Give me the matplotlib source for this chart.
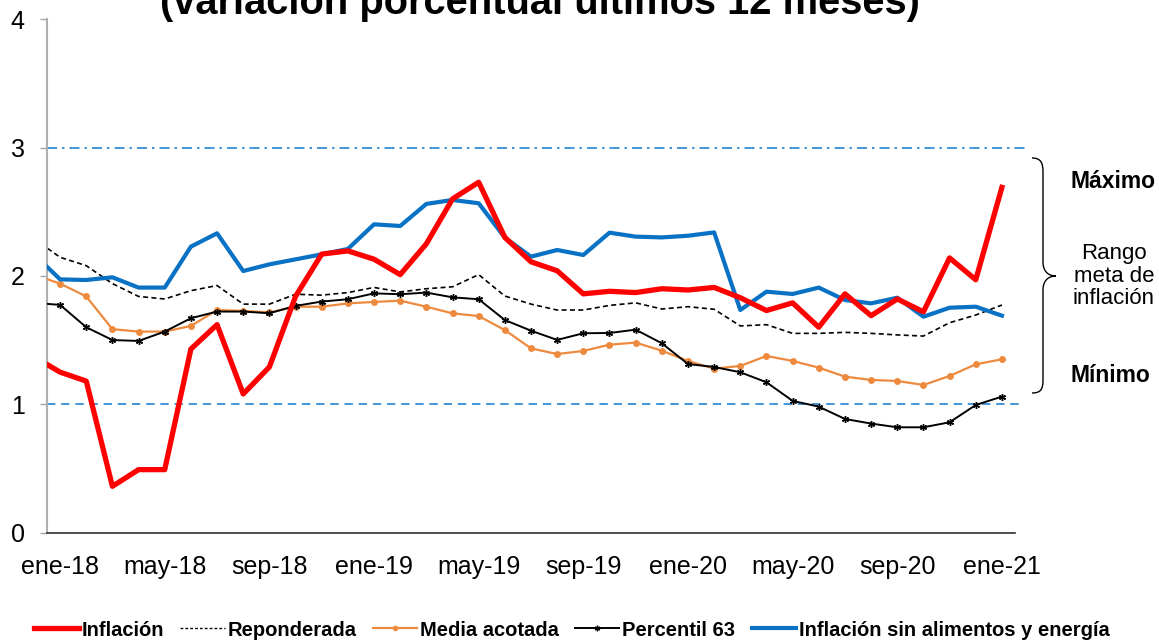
import numpy as np
import matplotlib
matplotlib.use("Agg")
import matplotlib.pyplot as plt
from matplotlib.path import Path
from matplotlib.patches import PathPatch
from matplotlib.lines import Line2D

plt.rcParams['font.family'] = ['Liberation Sans', 'DejaVu Sans']

# ---- data (dic-17 .. ene-21, monthly; first value only shows as the segment into the axis) ----
inflacion = [1.37, 1.25, 1.18, 0.36, 0.49, 0.49, 1.43, 1.62, 1.08, 1.29, 1.84, 2.17, 2.195, 2.13,
             2.01, 2.25, 2.60, 2.73, 2.30, 2.11, 2.04, 1.86, 1.88, 1.87, 1.90, 1.89, 1.91, 1.83,
             1.73, 1.79, 1.60, 1.86, 1.69, 1.82, 1.72, 2.14, 1.97, 2.69]
reponderada = [2.29, 2.145, 2.08, 1.94, 1.84, 1.82, 1.885, 1.925, 1.78, 1.78, 1.857, 1.85, 1.87,
               1.91, 1.875, 1.90, 1.915, 2.01, 1.843, 1.78, 1.734, 1.734, 1.77, 1.79, 1.742, 1.76,
               1.74, 1.61, 1.62, 1.552, 1.552, 1.56, 1.552, 1.54, 1.531, 1.635, 1.695, 1.773]
media_acotada = [2.01, 1.94, 1.84, 1.585, 1.566, 1.566, 1.61, 1.734, 1.727, 1.716, 1.76, 1.76,
                 1.786, 1.797, 1.807, 1.76, 1.708, 1.687, 1.578, 1.435, 1.391, 1.415, 1.464,
                 1.48, 1.417, 1.337, 1.277, 1.298, 1.376, 1.337, 1.285, 1.215, 1.189, 1.181,
                 1.15, 1.22, 1.311, 1.35]
percentil_63 = [1.79, 1.774, 1.60, 1.50, 1.493, 1.566, 1.67, 1.722, 1.722, 1.709, 1.766, 1.80,
                1.818, 1.864, 1.857, 1.87, 1.833, 1.818, 1.656, 1.573, 1.501, 1.553, 1.555,
                1.581, 1.475, 1.313, 1.29, 1.249, 1.171, 1.026, 0.981, 0.885, 0.849, 0.82,
                0.82, 0.859, 0.994, 1.059]
sin_alim_energia = [2.17, 1.973, 1.968, 1.989, 1.909, 1.909, 2.228, 2.332, 2.038, 2.09, 2.129,
                    2.168, 2.21, 2.402, 2.389, 2.561, 2.592, 2.566, 2.298, 2.15, 2.202, 2.163,
                    2.337, 2.306, 2.30, 2.313, 2.339, 1.734, 1.877, 1.859, 1.909, 1.812, 1.786,
                    1.83, 1.682, 1.752, 1.76, 1.69]
tick_labels = ['ene-18', 'may-18', 'sep-18', 'ene-19', 'may-19', 'sep-19',
               'ene-20', 'may-20', 'sep-20', 'ene-21']
meta_max = 3.0
meta_min = 1.0
title = '(variación porcentual últimos 12 meses)'

x = np.arange(-1, len(inflacion) - 1)

W, H = 1159, 641
fig = plt.figure(figsize=(W / 100, H / 100), dpi=100)
ax = fig.add_axes([47 / W, 1 - 532.5 / H, (1015 - 47) / W, (532.5 - 19.3) / H])

meta_col = '#2383d4'
ax.plot([-0.5, 36.9], [meta_max, meta_max], color=meta_col, lw=1.2,
        dashes=(6, 3, 1.5, 3), clip_on=False, zorder=1)
ax.plot([-0.5, 36.65], [meta_min, meta_min], color=meta_col, lw=1.2,
        dashes=(5, 3.5), clip_on=False, zorder=1)

ax.plot(x, reponderada, color='black', lw=1.2, ls=(0, (3, 2)), zorder=2)
ax.plot(x, media_acotada, color='#ee8a3e', lw=1.6, marker='o', ms=5,
        markeredgewidth=0, zorder=3)
ax.plot(x, percentil_63, color='black', lw=1.4, marker=(6, 2, 0), ms=5,
        markeredgewidth=1.0, zorder=4)
ax.plot(x, sin_alim_energia, color='#0a72c4', lw=3.0, zorder=5)
ax.plot(x, inflacion, color='#ff0000', lw=3.8, zorder=6)

ax.set_xlim(-0.5, 36.5)
ax.set_ylim(0, 4)
ax.set_xticks(np.arange(0, 37, 4))
ax.set_xticklabels(tick_labels)
ax.set_yticks([0, 1, 2, 3, 4])
ax.tick_params(axis='x', length=0, pad=16, labelsize=18)
ax.tick_params(axis='y', length=5, width=1.0, color='#a6a6a6', pad=11, labelsize=18)
for s in ['top', 'right']:
    ax.spines[s].set_visible(False)
ax.spines['left'].set_color('#b0b0b0')
ax.spines['left'].set_linewidth(1.5)
ax.spines['bottom'].set_color('#303030')
ax.spines['bottom'].set_linewidth(1.2)

fig.text(540 / W, 1 - 14 / H, title, fontsize=28.7, fontweight='bold',
         ha='center', va='baseline')

# brace
def P(px, py):
    return (px / W, 1 - py / H)

verts = [P(1032, 158), P(1041, 158), P(1043, 163), P(1043, 172), P(1043, 262),
         P(1043, 271), P(1048, 276), P(1056, 276),
         P(1048, 276), P(1043, 281), P(1043, 290), P(1043, 380),
         P(1043, 389), P(1041, 393), P(1032, 393)]
codes = [Path.MOVETO, Path.CURVE4, Path.CURVE4, Path.CURVE4, Path.LINETO,
         Path.CURVE4, Path.CURVE4, Path.CURVE4,
         Path.CURVE4, Path.CURVE4, Path.CURVE4, Path.LINETO,
         Path.CURVE4, Path.CURVE4, Path.CURVE4]
fig.patches.append(PathPatch(Path(verts, codes), transform=fig.transFigure,
                             fill=False, lw=1.0, color='black'))

fig.text(1071 / W, 1 - 182 / H, 'Máximo', fontsize=16.5, fontweight='bold',
         ha='left', va='center')
fig.text(1114 / W, 1 - 276 / H, 'Rango\nmeta de\ninflación', fontsize=16,
         ha='center', va='center', linespacing=1.12)
fig.text(1071 / W, 1 - 376 / H, 'Mínimo', fontsize=16.5, fontweight='bold',
         ha='left', va='center')

handles = [
    Line2D([], [], color='#ff0000', lw=3.8),
    Line2D([], [], color='black', lw=1.0, ls=(0, (2, 1.5))),
    Line2D([], [], color='#ee8a3e', lw=1.6, marker='o', ms=4, markeredgewidth=0),
    Line2D([], [], color='black', lw=1.4, marker=(6, 2, 0), ms=4),
    Line2D([], [], color='#0a72c4', lw=3.0),
]
labels = ['Inflación', 'Reponderada', 'Media acotada', 'Percentil 63',
          'Inflación sin alimentos y energía']
leg = fig.legend(handles, labels, loc='center', bbox_to_anchor=(572 / W, 1 - 630 / H),
                 ncol=5, frameon=False, handlelength=2.2, handletextpad=0.15,
                 columnspacing=0.8, borderpad=0,
                 prop={'weight': 'bold', 'size': 14.5})

fig.savefig('out.png', dpi=100)
